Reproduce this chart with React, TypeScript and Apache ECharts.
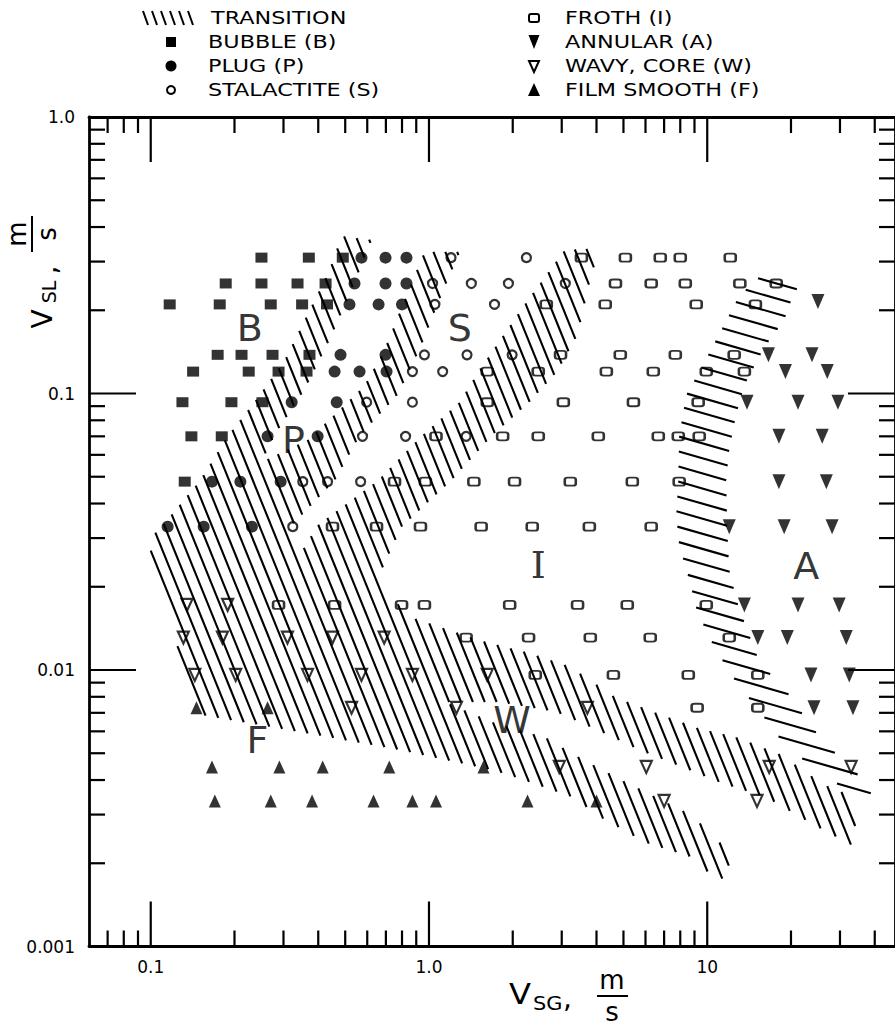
import React, { useEffect, useRef } from "react";
import * as echarts from "echarts";

const FONT = "DejaVu Sans";

// Axis ranges (m/s)
const X_MIN = 0.06;
const X_MAX = 47.3;
const Y_MIN = 0.001;
const Y_MAX = 1;

// Tick values and labels
const xTicks = [0.07, 0.08, 0.09, 0.1, 0.2, 0.3, 0.4, 0.5, 0.6, 0.7, 0.8, 0.9, 1, 2, 3, 4, 5, 6, 7, 8, 9, 10, 20, 30, 40];
const yTicks = [0.002, 0.003, 0.004, 0.005, 0.006, 0.007, 0.008, 0.009, 0.01, 0.02, 0.03, 0.04, 0.05, 0.06, 0.07, 0.08, 0.09, 0.1, 0.2, 0.3, 0.4, 0.5, 0.6, 0.7, 0.8, 0.9];
const xLabelValues = [0.1, 1, 10];
const xLabelTexts = ["0.1", "1.0", "10"];
const yLabelValues = [0.001, 0.01, 0.1, 1];
const yLabelTexts = ["0.001", "0.01", "0.1", "1.0"];

// Observed flow patterns: [V_SG, V_SL] in m/s
const bubble: [number, number][] = [
  [0.25, 0.31], [0.37, 0.31], [0.49, 0.31],
  [0.186, 0.25], [0.25, 0.25], [0.337, 0.25], [0.425, 0.25],
  [0.117, 0.21], [0.177, 0.21], [0.27, 0.21], [0.35, 0.21], [0.43, 0.21],
  [0.174, 0.138], [0.212, 0.138], [0.274, 0.138], [0.372, 0.138],
  [0.142, 0.12], [0.225, 0.12], [0.288, 0.12], [0.363, 0.12],
  [0.13, 0.093], [0.195, 0.093], [0.252, 0.093],
  [0.14, 0.07], [0.18, 0.07],
  [0.1325, 0.048],
];
const plug: [number, number][] = [
  [0.572, 0.31], [0.698, 0.31], [0.83, 0.31],
  [0.54, 0.25], [0.698, 0.25], [0.83, 0.25],
  [0.518, 0.21], [0.659, 0.21], [0.8, 0.21],
  [0.481, 0.138], [0.698, 0.138],
  [0.458, 0.12], [0.563, 0.12], [0.704, 0.12],
  [0.321, 0.093], [0.466, 0.093],
  [0.263, 0.07], [0.398, 0.07],
  [0.166, 0.048], [0.21, 0.048], [0.293, 0.048],
  [0.115, 0.033], [0.155, 0.033], [0.231, 0.033],
];
const stalactite: [number, number][] = [
  [1.2, 0.31], [2.24, 0.31],
  [1.03, 0.25], [1.42, 0.25], [1.93, 0.25], [3.09, 0.25],
  [1.05, 0.21], [1.72, 0.21],
  [0.963, 0.138], [1.37, 0.138], [1.99, 0.138],
  [0.872, 0.12], [1.12, 0.12],
  [0.597, 0.093], [0.872, 0.093],
  [0.577, 0.07], [0.824, 0.07], [1.36, 0.07],
  [0.352, 0.048], [0.432, 0.048], [0.568, 0.048],
  [0.324, 0.033],
];
const froth: [number, number][] = [
  [3.53, 0.31], [5.08, 0.31], [6.78, 0.31], [8.0, 0.31], [12.1, 0.31],
  [4.68, 0.25], [6.29, 0.25], [8.34, 0.25], [13.1, 0.25], [17.7, 0.25],
  [2.64, 0.21], [4.3, 0.21], [9.13, 0.21], [14.9, 0.21],
  [2.97, 0.138], [4.87, 0.138], [7.68, 0.138], [12.5, 0.138],
  [1.62, 0.12], [2.47, 0.12], [4.34, 0.12], [6.4, 0.12], [9.92, 0.12], [13.6, 0.12],
  [1.62, 0.093], [3.04, 0.093], [5.43, 0.093], [9.28, 0.093],
  [1.06, 0.07], [1.84, 0.07], [2.47, 0.07], [4.06, 0.07], [6.67, 0.07], [7.87, 0.07], [9.36, 0.07],
  [0.752, 0.048], [0.971, 0.048], [1.45, 0.048], [2.03, 0.048], [3.22, 0.048], [5.38, 0.048], [7.93, 0.048],
  [0.45, 0.033], [0.648, 0.033], [0.932, 0.033], [1.54, 0.033], [2.35, 0.033], [3.77, 0.033], [6.29, 0.033],
  [0.288, 0.0172], [0.458, 0.0172], [0.797, 0.0172], [0.963, 0.0172], [1.95, 0.0172], [3.42, 0.0172], [5.16, 0.0172], [9.92, 0.0172],
  [1.36, 0.0131], [2.28, 0.0131], [3.8, 0.0131], [6.24, 0.0131], [12.0, 0.0131],
  [2.41, 0.0096], [4.6, 0.0096], [8.55, 0.0096], [15.2, 0.0096],
  [9.2, 0.0073], [15.2, 0.0073],
];
const annular: [number, number][] = [
  [25, 0.215],
  [16.6, 0.138], [23.8, 0.138],
  [19.1, 0.12], [27, 0.12],
  [13.9, 0.093], [21.2, 0.093], [29.5, 0.093],
  [18.1, 0.07], [25.9, 0.07],
  [18.1, 0.048], [26.8, 0.048],
  [12.0, 0.033], [18.9, 0.033], [28.1, 0.033],
  [13.6, 0.0172], [21.2, 0.0172], [29.8, 0.0172],
  [15.2, 0.0131], [19.4, 0.0131], [31.6, 0.0131],
  [23.6, 0.0096], [32.4, 0.0096],
  [24.2, 0.0073], [33.4, 0.0073],
];
const wavy: [number, number][] = [
  [0.135, 0.0172], [0.189, 0.0172],
  [0.131, 0.0131], [0.181, 0.0131], [0.31, 0.0131], [0.45, 0.0131], [0.69, 0.0131],
  [0.144, 0.0096], [0.202, 0.0096], [0.366, 0.0096], [0.572, 0.0096], [0.872, 0.0096], [1.62, 0.0096],
  [0.527, 0.0073], [1.255, 0.0073], [3.71, 0.0073],
  [2.94, 0.00446], [6.04, 0.00446], [16.7, 0.00446], [32.9, 0.00446],
  [7.0, 0.00336], [15.1, 0.00336],
];
const film: [number, number][] = [
  [0.146, 0.0073], [0.263, 0.0073],
  [0.166, 0.00446], [0.29, 0.00446], [0.415, 0.00446], [0.72, 0.00446], [1.57, 0.00446],
  [0.17, 0.00336], [0.27, 0.00336], [0.38, 0.00336], [0.632, 0.00336], [0.872, 0.00336], [1.06, 0.00336], [2.26, 0.00336], [4.0, 0.00336],
];

// Transition zones (outlines in [V_SG, V_SL])
const transitionLeft: [number, number][] = [
  [0.485, 0.371], [0.622, 0.359], [0.527, 0.237], [0.439, 0.156], [0.357, 0.103], [0.279, 0.0708], [0.25, 0.0565],
  [0.366, 0.0679], [0.477, 0.0872], [0.587, 0.107], [0.692, 0.144], [0.817, 0.218], [0.963, 0.325],
  [1.29, 0.325], [1.09, 0.218], [0.925, 0.144], [0.771, 0.0988], [0.563, 0.0702], [0.458, 0.0483], [0.31, 0.0321], [0.343, 0.0261],
  [0.398, 0.0334], [0.653, 0.0483], [0.94, 0.0702], [1.29, 0.0932], [1.52, 0.122], [2.2, 0.209], [3.07, 0.33],
  [4.1, 0.336], [3.77, 0.251], [3.42, 0.163], [2.89, 0.12], [2.3, 0.0932], [1.68, 0.0702], [1.2, 0.0483], [0.797, 0.0329], [0.664, 0.0221],
  [0.817, 0.0158], [1.52, 0.0128], [2.3, 0.0115], [3.2, 0.0103], [4.64, 0.00799], [6.56, 0.00699], [9.21, 0.00617], [13.0, 0.00568], [18.4, 0.00493], [26.3, 0.00384], [31.0, 0.00359],
  [36.6, 0.0022], [23.2, 0.00282], [16.3, 0.00347], [11.5, 0.00387], [8.13, 0.00446], [5.7, 0.00514], [4.03, 0.00607], [2.87, 0.00705], [1.79, 0.00766], [1.14, 0.00766],
  [1.69, 0.00648], [2.64, 0.00568], [3.33, 0.00493], [4.75, 0.00407], [6.84, 0.00339], [8.76, 0.00299], [11.3, 0.00233],
  [12.3, 0.0018], [10.9, 0.00174], [8.62, 0.00212], [6.04, 0.00237], [4.2, 0.00291], [3.28, 0.00347], [2.08, 0.00407], [1.69, 0.00435], [0.784, 0.00514], [0.343, 0.00597], [0.146, 0.00693],
  [0.0976, 0.0295], [0.108, 0.0326], [0.15, 0.0483], [0.189, 0.0702], [0.236, 0.0932], [0.303, 0.132], [0.372, 0.2], [0.439, 0.28],
];
const transitionRight: [number, number][] = [
  [16.4, 0.28], [13.0, 0.225], [11.0, 0.163], [9.36, 0.12], [8.41, 0.0988], [7.93, 0.0708], [7.87, 0.0487], [7.74, 0.0364], [7.93, 0.0283], [8.62, 0.0212], [9.21, 0.0162], [10.6, 0.0121], [12.7, 0.00905], [15.8, 0.00688], [19.2, 0.00527], [30.5, 0.00377],
  [43.2, 0.0035], [31.6, 0.00453], [23.8, 0.00617], [20.0, 0.00799], [15.4, 0.0107], [13.9, 0.014], [12.8, 0.0176], [12.0, 0.023], [11.8, 0.0321], [11.7, 0.0487], [12.0, 0.0625], [12.7, 0.0836], [13.6, 0.107], [16.0, 0.146], [18.9, 0.184], [20.5, 0.231], [22.3, 0.257],
];

// Region letters
const regionNames = ["B", "P", "S", "I", "A", "W", "F"];
const regionX = [0.227, 0.326, 1.29, 2.47, 22.7, 1.99, 0.242];
const regionY = [0.1725, 0.0679, 0.1725, 0.024, 0.0238, 0.00659, 0.00558];

// Legend
const legendLeft = ["BUBBLE (B)", "PLUG (P)", "STALACTITE (S)"];
const legendRight = ["FROTH (I)", "ANNULAR (A)", "WAVY, CORE (W)", "FILM SMOOTH (F)"];

function isMajor(v: number) {
  const l = Math.log10(v);
  return Math.abs(l - Math.round(l)) < 1e-6;
}
function labelFor(v: number, vals: number[], texts: string[]) {
  for (let i = 0; i < vals.length; i++) {
    if (Math.abs(Math.log10(v) - Math.log10(vals[i])) < 1e-6) return texts[i];
  }
  return "";
}

function hatchSegments(pts: number[][], angleDeg: number, spacing: number, phase: number) {
  const a = (angleDeg * Math.PI) / 180;
  const dx = Math.cos(a), dy = Math.sin(a);
  const nx = -dy, ny = dx;
  const s = pts.map((p) => p[0] * nx + p[1] * ny);
  const smin = Math.min(...s), smax = Math.max(...s);
  const segs: number[][] = [];
  const start = Math.ceil((smin - phase) / spacing) * spacing + phase;
  for (let c = start; c <= smax; c += spacing) {
    const us: number[] = [];
    for (let i = 0; i < pts.length; i++) {
      const j = (i + 1) % pts.length;
      const si = s[i], sj = s[j];
      if ((si <= c && sj > c) || (sj <= c && si > c)) {
        const t = (c - si) / (sj - si);
        const px = pts[i][0] + t * (pts[j][0] - pts[i][0]);
        const py = pts[i][1] + t * (pts[j][1] - pts[i][1]);
        us.push(px * dx + py * dy);
      }
    }
    us.sort((p, q) => p - q);
    for (let k = 0; k + 1 < us.length; k += 2) {
      const u1 = us[k], u2 = us[k + 1];
      if (u2 - u1 < 3) continue;
      segs.push([c * nx + u1 * dx, c * ny + u1 * dy, c * nx + u2 * dx, c * ny + u2 * dy]);
    }
  }
  return segs;
}

function hatchSeries(name: string, poly: [number, number][], angle: number, spacing: number, width: number) {
  return {
    type: "custom",
    name,
    coordinateSystem: "cartesian2d",
    silent: true,
    z: 4,
    data: poly,
    renderItem: (params: any, api: any) => {
      if (params.dataIndex !== 0) return null;
      const pts = poly.map((p) => api.coord(p));
      const segs = hatchSegments(pts, angle, spacing, 0.5);
      return {
        type: "group",
        children: segs.map((sg) => ({
          type: "line",
          shape: { x1: sg[0], y1: sg[1], x2: sg[2], y2: sg[3] },
          style: { stroke: "#000", lineWidth: width },
        })),
      };
    },
  };
}

const TXT = (text: string, x: number, y: number, size: number, opts: any = {}) => ({
  type: "text",
  x,
  y,
  rotation: opts.rotation || 0,
  scaleX: opts.scaleX || 1,
  style: {
    text,
    fontSize: size,
    fontFamily: opts.family || FONT,
    fill: "#000",
    align: opts.align || "left",
    textAlign: opts.align || "left",
    verticalAlign: "middle",
    textVerticalAlign: "middle",
  },
});

function legendSymbol(kind: string, cx: number, cy: number): any {
  const black = { fill: "#000" };
  const open = { fill: "#fff", stroke: "#000", lineWidth: 2 };
  switch (kind) {
    case "bubble":
      return { type: "rect", shape: { x: cx - 5, y: cy - 5, width: 10, height: 10 }, style: black };
    case "plug":
      return { type: "circle", shape: { cx, cy, r: 5.5 }, style: black };
    case "stal":
      return { type: "circle", shape: { cx, cy, r: 4 }, style: open };
    case "froth":
      return { type: "rect", shape: { x: cx - 5, y: cy - 4, width: 10, height: 8, r: 2 }, style: open };
    case "annular":
      return { type: "polygon", shape: { points: [[cx - 5.5, cy - 7], [cx + 5.5, cy - 7], [cx, cy + 7]] }, style: black };
    case "wavy":
      return { type: "polygon", shape: { points: [[cx - 5, cy - 5], [cx + 5, cy - 5], [cx, cy + 6]] }, style: open };
    default:
      return { type: "polygon", shape: { points: [[cx - 6, cy + 6], [cx + 6, cy + 6], [cx, cy - 7]] }, style: black };
  }
}

export default function App() {
  const ref = useRef<HTMLDivElement>(null);
  useEffect(() => {
    document.body.style.margin = "0";
    const chart = echarts.init(ref.current!, null, { renderer: "svg" });

    const rows = [18, 42, 66, 90];
    const graphic: any[] = [];
    // Transition legend glyph
    for (let i = 0; i < 6; i++) {
      const x0 = 143 + i * 9;
      graphic.push({ type: "line", shape: { x1: x0, y1: rows[0] - 7, x2: x0 + 5, y2: rows[0] + 7 }, style: { stroke: "#000", lineWidth: 2 } });
    }
    graphic.push(TXT("TRANSITION", 211, rows[0], 18, { scaleX: 1.24 }));
    const leftKinds = ["bubble", "plug", "stal"];
    legendLeft.forEach((t, i) => {
      graphic.push(legendSymbol(leftKinds[i], 171, rows[i + 1]));
      graphic.push(TXT(t, 208, rows[i + 1], 18, { scaleX: 1.24 }));
    });
    const rightKinds = ["froth", "annular", "wavy", "film"];
    legendRight.forEach((t, i) => {
      graphic.push(legendSymbol(rightKinds[i], 534, rows[i]));
      graphic.push(TXT(t, 565, rows[i], 18, { scaleX: 1.24 }));
    });
    // X axis title
    graphic.push(TXT("V", 509, 994, 28, { scaleX: 1.15 }));
    graphic.push(TXT("SG", 533, 1003, 19, { scaleX: 1.1 }));
    graphic.push(TXT(",", 563, 998, 28));
    graphic.push(TXT("m", 612, 980, 26, { align: "center" }));
    graphic.push({ type: "line", shape: { x1: 597, y1: 996, x2: 628, y2: 996 }, style: { stroke: "#000", lineWidth: 2 } });
    graphic.push(TXT("s", 612, 1012, 26, { align: "center" }));
    // Y axis title (rotated)
    const R = Math.PI / 2;
    graphic.push(TXT("V", 42, 319, 28, { rotation: R, align: "center" }));
    graphic.push(TXT("SL", 49, 292, 19, { rotation: R, align: "center" }));
    graphic.push(TXT(",", 47, 270, 28, { rotation: R, align: "center" }));
    graphic.push(TXT("m", 17, 234, 26, { rotation: R, align: "center" }));
    graphic.push({ type: "line", shape: { x1: 32, y1: 216, x2: 32, y2: 252 }, style: { stroke: "#000", lineWidth: 2 } });
    graphic.push(TXT("s", 47, 234, 26, { rotation: R, align: "center" }));

    const axisLine = { show: true, lineStyle: { color: "#000", width: 2.8 } };
    const labelStyle = { fontSize: 17, fontFamily: FONT, color: "#000" };

    const tickStyle = { stroke: "#000", lineWidth: 2.2 };

    const option: any = {
      animation: false,
      backgroundColor: "#fff",
      grid: { left: 89, top: 117, width: 807, height: 829.5 },
      xAxis: [
        {
          type: "log", logBase: 10, min: X_MIN, max: X_MAX, position: "bottom",
          axisLine, axisTick: { show: false }, minorTick: { show: false }, splitLine: { show: false },
          axisLabel: { ...labelStyle, margin: 12, showMinLabel: false, showMaxLabel: false, formatter: (v: number) => labelFor(v, xLabelValues, xLabelTexts) },
        },
        {
          type: "log", logBase: 10, min: X_MIN, max: X_MAX, position: "top",
          axisLine, axisTick: { show: false }, splitLine: { show: false }, axisLabel: { show: false },
        },
      ],
      yAxis: [
        {
          type: "log", logBase: 10, min: Y_MIN, max: Y_MAX, position: "left",
          axisLine, axisTick: { show: false }, minorTick: { show: false }, splitLine: { show: false },
          axisLabel: { ...labelStyle, margin: 14, formatter: (v: number) => labelFor(v, yLabelValues, yLabelTexts) },
        },
        {
          type: "log", logBase: 10, min: Y_MIN, max: Y_MAX, position: "right",
          axisLine, axisTick: { show: false }, splitLine: { show: false }, axisLabel: { show: false },
        },
      ],
      graphic,
      series: [
        { name: "BUBBLE (B)", type: "scatter", data: bubble, symbol: "rect", symbolSize: [12, 10], itemStyle: { color: "#000" }, silent: true, z: 3 },
        { name: "PLUG (P)", type: "scatter", data: plug, symbol: "circle", symbolSize: 12, itemStyle: { color: "#000" }, silent: true, z: 3 },
        { name: "STALACTITE (S)", type: "scatter", data: stalactite, symbol: "circle", symbolSize: 9, itemStyle: { color: "#fff", borderColor: "#000", borderWidth: 2.2 }, silent: true, z: 3 },
        { name: "FROTH (I)", type: "scatter", data: froth, symbol: "roundRect", symbolSize: [11, 8], itemStyle: { color: "#fff", borderColor: "#000", borderWidth: 2.2 }, silent: true, z: 3 },
        { name: "ANNULAR (A)", type: "scatter", data: annular, symbol: "triangle", symbolRotate: 180, symbolSize: [13, 15], itemStyle: { color: "#000" }, silent: true, z: 3 },
        { name: "WAVY, CORE (W)", type: "scatter", data: wavy, symbol: "triangle", symbolRotate: 180, symbolSize: [11, 12], itemStyle: { color: "#fff", borderColor: "#000", borderWidth: 2.2 }, silent: true, z: 3 },
        { name: "FILM SMOOTH (F)", type: "scatter", data: film, symbol: "triangle", symbolSize: [12, 13], itemStyle: { color: "#000" }, silent: true, z: 3 },
        hatchSeries("TRANSITION", transitionLeft, 68, 11, 2.1),
        hatchSeries("TRANSITION A", transitionRight, 16, 14.5, 2.1),
        {
          type: "scatter", name: "regions", silent: true, z: 6,
          symbolSize: 1, itemStyle: { color: "rgba(0,0,0,0)" },
          data: regionNames.map((n, i) => ({
            name: n, value: [regionX[i], regionY[i]],
            label: n === "I" ? { fontFamily: "DejaVu Serif" } : undefined,
          })),
          label: { show: true, position: "inside", formatter: "{b}", fontSize: 38, fontFamily: FONT, color: "#000" },
        },
        {
          type: "custom", name: "xticks", coordinateSystem: "cartesian2d", silent: true, z: 5,
          data: xTicks.map((v) => [v, 1]),
          renderItem: (params: any, api: any) => {
            const v = api.value(0);
            const cs = params.coordSys;
            const x = api.coord([v, 1])[0];
            const len = isMajor(v) ? 45 : 16;
            const yb = cs.y + cs.height;
            return {
              type: "group",
              children: [
                { type: "line", shape: { x1: x, y1: cs.y, x2: x, y2: cs.y + len }, style: tickStyle },
                { type: "line", shape: { x1: x, y1: yb, x2: x, y2: yb - len }, style: tickStyle },
              ],
            };
          },
        },
        {
          type: "custom", name: "yticks", coordinateSystem: "cartesian2d", silent: true, z: 5,
          data: yTicks.map((v) => [1, v]),
          renderItem: (params: any, api: any) => {
            const v = api.value(1);
            const cs = params.coordSys;
            const y = api.coord([1, v])[1];
            const len = isMajor(v) ? 47 : 16;
            const xr = cs.x + cs.width;
            return {
              type: "group",
              children: [
                { type: "line", shape: { x1: cs.x, y1: y, x2: cs.x + len, y2: y }, style: tickStyle },
                { type: "line", shape: { x1: xr, y1: y, x2: xr - len, y2: y }, style: tickStyle },
              ],
            };
          },
        },
      ],
    };
    chart.setOption(option);
    return () => chart.dispose();
  }, []);
  return <div ref={ref} style={{ position: "absolute", left: 0, top: 0, width: 895, height: 1027, background: "#fff" }} />;
}
